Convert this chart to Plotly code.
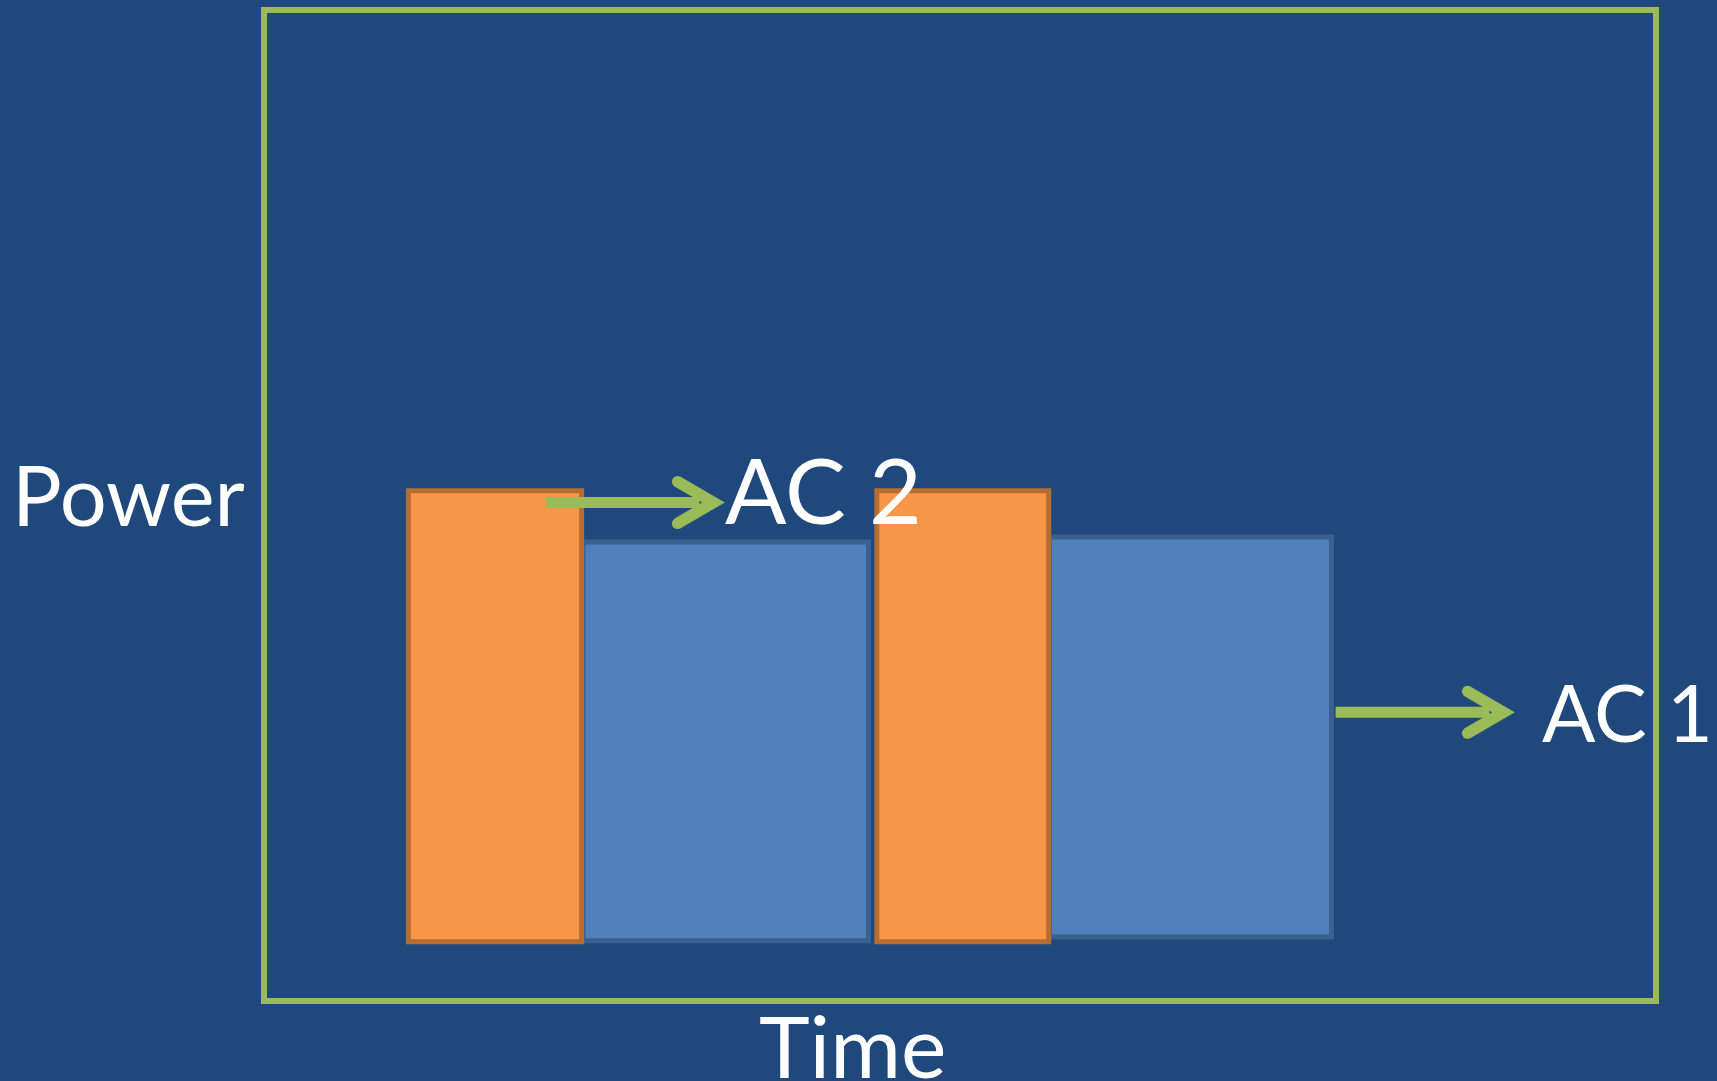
import plotly.graph_objects as go

# ---- data (time / power in arbitrary units) ----
orange_start = [1.02, 4.40]
orange_end = [2.27, 5.64]
orange_base = [0.57, 0.57]
orange_top = [5.15, 5.15]

blue_start = [2.28, 5.645]
blue_end = [4.34, 7.68]
blue_base = [0.58, 0.62]
blue_top = [4.63, 4.68]

arrow_labels = ["AC 2", "AC 1"]
arrow_start = [2.01, 7.71]
arrow_tip = [3.30, 9.00]
arrow_level = [5.03, 2.90]

axis_titles = ["Time", "Power"]

# ---- layout constants ----
W, H = 1717, 1081
ML, MR, MT, MB = 267, 64, 7, 83
XR = (0, 10)
YR = (0, 10)
BG = "#1F497D"
GREEN = "#9BBB59"
FONT = "Lato"


def px_x(px):
    return (px - ML) / (W - ML - MR)


def px_y(py):
    return (H - MB - py) / (H - 12 - MB)


def bars(starts, ends, bases, tops, fill, edge, name):
    centers = [(s + e) / 2 for s, e in zip(starts, ends)]
    widths = [e - s for s, e in zip(starts, ends)]
    heights = [t - b for t, b in zip(tops, bases)]
    return go.Bar(x=centers, y=heights, base=bases, width=widths,
                  marker=dict(color=fill, line=dict(color=edge, width=5)),
                  name=name, showlegend=False, hoverinfo="skip")


fig = go.Figure()
fig.add_trace(bars(blue_start, blue_end, blue_base, blue_top, "#4F81BD", "#3B5F8F", "Discharge"))
fig.add_trace(bars(orange_start, orange_end, orange_base, orange_top, "#F79646", "#B66D31", "Charge"))

# arrows: shaft + filled chevron head (pixel offsets relative to the tip) + rounded arm ends
x_per_px = (XR[1] - XR[0]) / (W - ML - MR)
y_per_px = (YR[1] - YR[0]) / (H - 12 - MB)
LW = 11
head_poly = [(0, 0), (-44.2, -25.75), (-49.8, -16.25), (-21.9, 0), (-49.8, 16.25), (-44.2, 25.75), (0, 0)]
caps = [(-47, -21), (-47, 21)]
for s, t, lv in zip(arrow_start, arrow_tip, arrow_level):
    fig.add_trace(go.Scatter(x=[s, t - 25 * x_per_px], y=[lv, lv], mode="lines",
                             line=dict(color=GREEN, width=LW),
                             showlegend=False, hoverinfo="skip"))
    fig.add_trace(go.Scatter(x=[t + dx * x_per_px for dx, dy in head_poly],
                             y=[lv - dy * y_per_px for dx, dy in head_poly],
                             mode="lines", fill="toself", fillcolor=GREEN,
                             line=dict(color=GREEN, width=0.5),
                             showlegend=False, hoverinfo="skip"))
    fig.add_trace(go.Scatter(x=[t + dx * x_per_px for dx, dy in caps],
                             y=[lv - dy * y_per_px for dx, dy in caps],
                             mode="markers",
                             marker=dict(color=GREEN, size=LW, line=dict(width=0)),
                             showlegend=False, hoverinfo="skip"))

annos = []
label_pos = [(723, 488, 91), (1540, 711, 79)]
for lab, (lx, ly, fs) in zip(arrow_labels, label_pos):
    annos.append(dict(text=lab, x=px_x(lx), y=px_y(ly), xref="paper", yref="paper",
                      xanchor="left", yanchor="middle", showarrow=False,
                      font=dict(family=FONT, size=fs, color="white")))
annos.append(dict(text=axis_titles[1], x=px_x(10), y=px_y(493), xref="paper", yref="paper",
                  xanchor="left", yanchor="middle", showarrow=False,
                  font=dict(family=FONT, size=83, color="white")))
annos.append(dict(text=axis_titles[0], x=px_x(852), y=px_y(1045), xref="paper", yref="paper",
                  xanchor="center", yanchor="middle", showarrow=False,
                  font=dict(family=FONT, size=86, color="white")))

axis_common = dict(showline=True, mirror=True, linecolor=GREEN, linewidth=6,
                   showgrid=False, zeroline=False, showticklabels=False, ticks="",
                   fixedrange=True)
fig.update_layout(
    width=W, height=H,
    margin=dict(l=ML, r=MR, t=MT, b=MB, pad=0),
    paper_bgcolor=BG, plot_bgcolor=BG,
    barmode="overlay",
    xaxis=dict(range=list(XR), **axis_common),
    yaxis=dict(range=list(YR), **axis_common),
    annotations=annos,
)
fig.write_html("out.html")
